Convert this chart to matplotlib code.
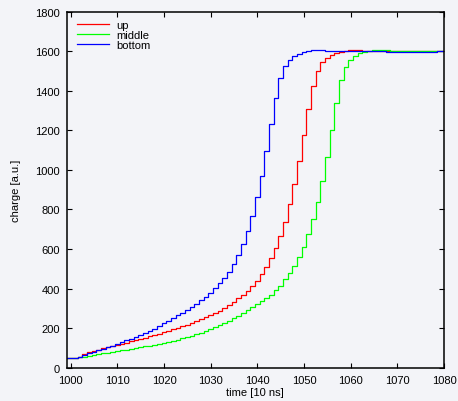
import numpy as np
import matplotlib
matplotlib.use("Agg")
import matplotlib.pyplot as plt

plt.rcParams['font.family'] = ['Liberation Sans', 'DejaVu Sans']

time = list(range(999, 1081))

up = [50, 50, 50, 55, 68, 78, 86, 92, 98, 104,
      110, 116, 121, 127, 133, 139, 145, 151, 158, 165,
      172, 179, 186, 194, 202, 210, 218, 227, 236, 245,
      255, 265, 277, 289, 302, 316, 333, 350, 366, 389,
      415, 440, 474, 507, 553, 604, 665, 739, 827, 927,
      1045, 1177, 1308, 1423, 1502, 1544, 1566, 1581, 1591, 1598,
      1603, 1606, 1606, 1605, 1603, 1602, 1601, 1600, 1600, 1600,
      1600, 1600, 1599, 1599, 1600, 1600, 1600, 1600, 1600, 1600,
      1600, 1600]

middle = [50, 50, 50, 52, 56, 60, 64, 68, 72, 76,
          80, 84, 88, 92, 96, 100, 104, 108, 112, 117,
          122, 126, 131, 136, 142, 148, 155, 162, 169, 177,
          186, 195, 204, 214, 225, 237, 250, 263, 277, 292,
          307, 322, 336, 351, 367, 393, 415, 448, 479, 516,
          560, 612, 676, 752, 840, 945, 1067, 1201, 1340, 1455,
          1522, 1557, 1577, 1591, 1598, 1603, 1606, 1608, 1607, 1605,
          1603, 1601, 1600, 1600, 1600, 1600, 1600, 1600, 1600, 1601,
          1601, 1601]

bottom = [50, 50, 50, 55, 62, 72, 80, 88, 96, 104,
          112, 120, 129, 138, 147, 156, 165, 175, 186, 198,
          211, 225, 238, 251, 264, 278, 293, 308, 324, 342,
          360, 380, 402, 426, 452, 485, 523, 571, 625, 690,
          768, 864, 971, 1095, 1233, 1363, 1466, 1528, 1557, 1574,
          1586, 1598, 1603, 1606, 1606, 1605, 1603, 1602, 1601, 1601,
          1600, 1600, 1600, 1600, 1600, 1600, 1599, 1599, 1599, 1598,
          1598, 1598, 1598, 1598, 1598, 1598, 1598, 1598, 1598, 1598,
          1599, 1599]

xticks = list(range(1000, 1081, 10))
yticks = list(range(0, 1801, 200))

bg = '#f3f4f8'
fig = plt.figure(figsize=(4.58, 4.02), dpi=100, facecolor=bg)
ax = fig.add_axes([0.1456, 0.0828, 0.9694 - 0.1456, 0.9684 - 0.0828], facecolor=bg)

ax.step(time, up, where='mid', color='#ff0000', lw=0.9, label='up')
ax.step(time, middle, where='mid', color='#00ff00', lw=0.9, label='middle')
ax.step(time, bottom, where='mid', color='#0000ff', lw=0.9, label='bottom')

ax.set_xlim(999.15, 1080)
ax.set_ylim(0, 1800)
ax.set_xticks(xticks)
ax.set_yticks(yticks)
ax.tick_params(direction='in', length=3.5, width=0.8, top=True, right=True,
               labelsize=8, pad=5, colors='black')
for s in ax.spines.values():
    s.set_linewidth(1.1)
    s.set_color('black')

ax.set_xlabel('time [10 ns]', fontsize=8, labelpad=2)
ax.set_ylabel('charge [a.u.]', fontsize=8, labelpad=10)

leg = ax.legend(loc='upper left', bbox_to_anchor=(0.01, 0.995), frameon=False,
                fontsize=8, handlelength=2.9, handletextpad=0.6,
                labelspacing=0.0, borderaxespad=0.2)

fig.savefig('out.png', dpi=100, facecolor=bg)
